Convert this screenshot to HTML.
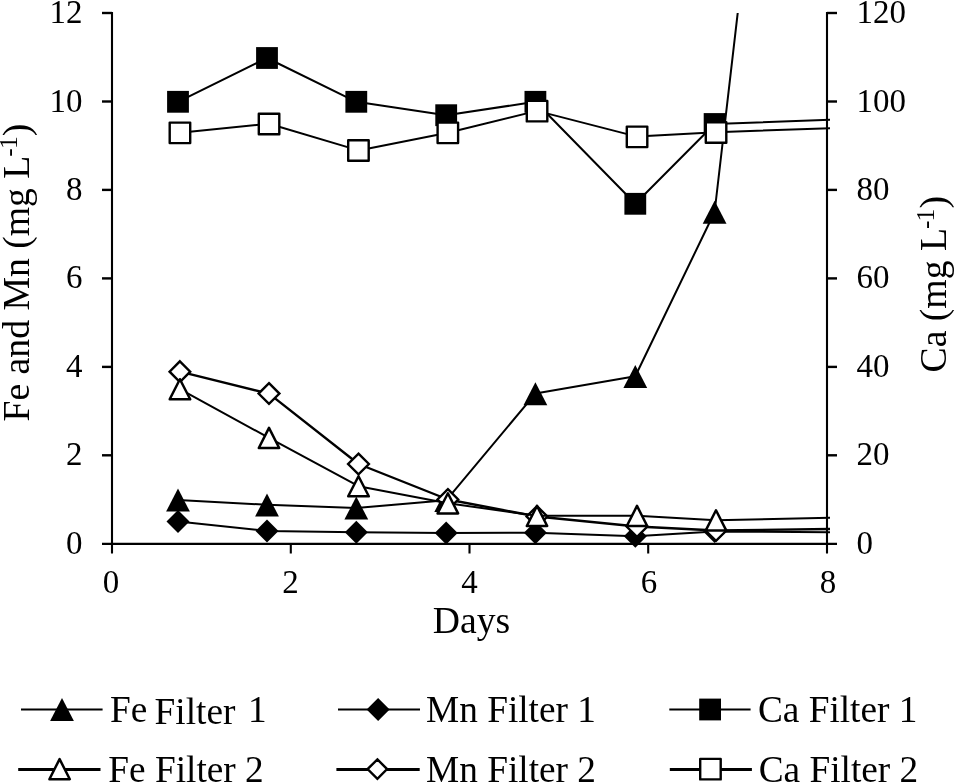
<!DOCTYPE html>
<html lang="en"><head><meta charset="utf-8"><title>Fe, Mn and Ca in filters</title>
<style>
html,body{margin:0;padding:0;background:#fff;}
body{width:955px;height:783px;overflow:hidden;}
svg{display:block;}
text{font-family:"Liberation Serif","Times New Roman",serif;fill:#000;}
.tk{font-size:33px;}
.tt{font-size:37.3px;}
.at{font-size:37.7px;}
</style></head><body>
<svg width="955" height="783" viewBox="0 0 955 783">
<rect width="955" height="783" fill="#fff"/>
<defs><clipPath id="cp"><rect x="100" y="12.9" width="730" height="560"/></clipPath></defs>

<g stroke="#000" stroke-width="2.1" fill="none">
<line x1="112.0" y1="12.0" x2="112.0" y2="553.5"/>
<line x1="827.0" y1="12.0" x2="827.0" y2="553.5"/>
<line x1="102.0" y1="543.9" x2="837.0" y2="543.9"/>
<line stroke-width="2.4" x1="102.0" y1="455.3" x2="112.0" y2="455.3"/>
<line stroke-width="2.4" x1="827.0" y1="455.3" x2="837.0" y2="455.3"/>
<line stroke-width="2.4" x1="102.0" y1="366.9" x2="112.0" y2="366.9"/>
<line stroke-width="2.4" x1="827.0" y1="366.9" x2="837.0" y2="366.9"/>
<line stroke-width="2.4" x1="102.0" y1="278.4" x2="112.0" y2="278.4"/>
<line stroke-width="2.4" x1="827.0" y1="278.4" x2="837.0" y2="278.4"/>
<line stroke-width="2.4" x1="102.0" y1="189.9" x2="112.0" y2="189.9"/>
<line stroke-width="2.4" x1="827.0" y1="189.9" x2="837.0" y2="189.9"/>
<line stroke-width="2.4" x1="102.0" y1="101.5" x2="112.0" y2="101.5"/>
<line stroke-width="2.4" x1="827.0" y1="101.5" x2="837.0" y2="101.5"/>
<line stroke-width="2.4" x1="102.0" y1="13.0" x2="112.0" y2="13.0"/>
<line stroke-width="2.4" x1="827.0" y1="13.0" x2="837.0" y2="13.0"/>
<line x1="290.8" y1="543.9" x2="290.8" y2="553.5"/>
<line x1="469.5" y1="543.9" x2="469.5" y2="553.5"/>
<line x1="648.2" y1="543.9" x2="648.2" y2="553.5"/>
</g>
<g class="tk">
<text transform="translate(82.6 553.8) scale(1 1.035)" text-anchor="end">0</text>
<text transform="translate(856.6 553.8) scale(1 1.035)">0</text>
<text transform="translate(82.6 465.3) scale(1 1.035)" text-anchor="end">2</text>
<text transform="translate(856.6 465.3) scale(1 1.035)">20</text>
<text transform="translate(82.6 376.9) scale(1 1.035)" text-anchor="end">4</text>
<text transform="translate(856.6 376.9) scale(1 1.035)">40</text>
<text transform="translate(82.6 288.4) scale(1 1.035)" text-anchor="end">6</text>
<text transform="translate(856.6 288.4) scale(1 1.035)">60</text>
<text transform="translate(82.6 199.9) scale(1 1.035)" text-anchor="end">8</text>
<text transform="translate(856.6 199.9) scale(1 1.035)">80</text>
<text transform="translate(82.6 111.5) scale(1 1.035)" text-anchor="end">10</text>
<text transform="translate(856.6 111.5) scale(1 1.035)">100</text>
<text transform="translate(82.6 23.0) scale(1 1.035)" text-anchor="end">12</text>
<text transform="translate(856.6 23.0) scale(1 1.035)">120</text>
<text transform="translate(111.1 592.6) scale(1 1.035)" text-anchor="middle">0</text>
<text transform="translate(290.4 592.6) scale(1 1.035)" text-anchor="middle">2</text>
<text transform="translate(469.6 592.6) scale(1 1.035)" text-anchor="middle">4</text>
<text transform="translate(648.9 592.6) scale(1 1.035)" text-anchor="middle">6</text>
<text transform="translate(828.1 592.6) scale(1 1.035)" text-anchor="middle">8</text>
</g>
<text class="at" x="471.5" y="633.2" text-anchor="middle">Days</text>
<text class="at" transform="translate(29.4 421.5) rotate(-90)">Fe and Mn (mg L<tspan font-size="25.5px" letter-spacing="-0.9" dx="-1" dy="-12.4">-1</tspan><tspan dx="1" dy="12.4">)</tspan></text>
<text class="at" transform="translate(946.4 372.5) rotate(-90)">Ca (mg L<tspan font-size="25.5px" letter-spacing="-0.9" dx="-1" dy="-12.4">-1</tspan><tspan dx="1" dy="12.4">)</tspan></text>
<g clip-path="url(#cp)">
<polyline fill="none" stroke="#000" stroke-width="2" stroke-linejoin="round" points="178.0,521.6 267.0,530.9 356.3,532.2 446.2,533.1 535.4,532.7 635.3,536.2 714.6,531.6 840.0,532.2"/>
<polygon points="178.0,510.1 189.5,521.6 178.0,533.1 166.5,521.6" fill="#000"/>
<polygon points="267.0,519.4 278.5,530.9 267.0,542.4 255.5,530.9" fill="#000"/>
<polygon points="356.3,520.7 367.8,532.2 356.3,543.7 344.8,532.2" fill="#000"/>
<polygon points="446.2,521.6 457.7,533.1 446.2,544.6 434.7,533.1" fill="#000"/>
<polygon points="535.4,521.2 546.9,532.7 535.4,544.2 523.9,532.7" fill="#000"/>
<polygon points="635.3,524.7 646.8,536.2 635.3,547.7 623.8,536.2" fill="#000"/>
<polygon points="714.6,520.1 726.1,531.6 714.6,543.1 703.1,531.6" fill="#000"/>
<polyline fill="none" stroke="#000" stroke-width="2" stroke-linejoin="round" points="178.0,499.9 267.0,504.8 356.3,507.9 446.2,500.3 535.4,393.6 635.3,376.3 714.6,212.0 804.0,-558.0"/>
<polygon points="178.0,488.6 189.9,511.6 166.1,511.6" fill="#000"/>
<polygon points="267.0,493.5 278.9,516.5 255.1,516.5" fill="#000"/>
<polygon points="356.3,496.6 368.2,519.6 344.4,519.6" fill="#000"/>
<polygon points="446.2,489.0 458.1,512.0 434.3,512.0" fill="#000"/>
<polygon points="535.4,382.3 547.3,405.3 523.5,405.3" fill="#000"/>
<polygon points="635.3,365.0 647.2,388.0 623.4,388.0" fill="#000"/>
<polygon points="714.6,200.7 726.5,223.7 702.7,223.7" fill="#000"/>
<polyline fill="none" stroke="#000" stroke-width="2.4" stroke-linejoin="round" points="179.9,371.7 269.0,393.6 358.5,464.0 447.9,499.5 537.0,516.5 637.0,526.5 716.0,530.5 840.0,528.9"/>
<polygon points="179.9,361.3 190.2,371.7 179.9,382.0 169.6,371.7" fill="#fff" stroke="#000" stroke-width="2.4"/>
<polygon points="269.0,383.2 279.4,393.6 269.0,403.9 258.6,393.6" fill="#fff" stroke="#000" stroke-width="2.4"/>
<polygon points="358.5,453.7 368.9,464.0 358.5,474.4 348.1,464.0" fill="#fff" stroke="#000" stroke-width="2.4"/>
<polygon points="447.9,489.1 458.2,499.5 447.9,509.8 437.5,499.5" fill="#fff" stroke="#000" stroke-width="2.4"/>
<polygon points="537.0,506.2 547.4,516.5 537.0,526.9 526.6,516.5" fill="#fff" stroke="#000" stroke-width="2.4"/>
<polygon points="637.0,516.1 647.4,526.5 637.0,536.8 626.6,526.5" fill="#fff" stroke="#000" stroke-width="2.4"/>
<polygon points="716.0,520.1 726.4,530.5 716.0,540.8 705.6,530.5" fill="#fff" stroke="#000" stroke-width="2.4"/>
<polyline fill="none" stroke="#000" stroke-width="2" stroke-linejoin="round" points="179.9,389.2 269.0,437.9 358.5,486.2 447.9,503.2 537.0,515.8 637.0,515.8 716.0,520.3 840.0,517.5"/>
<polygon points="179.9,379.2 190.2,399.3 169.7,399.3" fill="#fff" stroke="#000" stroke-width="2.5" stroke-linejoin="round"/>
<polygon points="269.0,427.9 279.2,448.0 258.8,448.0" fill="#fff" stroke="#000" stroke-width="2.5" stroke-linejoin="round"/>
<polygon points="358.5,476.2 368.8,496.3 348.2,496.3" fill="#fff" stroke="#000" stroke-width="2.5" stroke-linejoin="round"/>
<polygon points="447.9,493.3 458.1,513.4 437.6,513.4" fill="#fff" stroke="#000" stroke-width="2.5" stroke-linejoin="round"/>
<polygon points="537.0,505.9 547.2,526.0 526.8,526.0" fill="#fff" stroke="#000" stroke-width="2.5" stroke-linejoin="round"/>
<polygon points="637.0,505.9 647.2,526.0 626.8,526.0" fill="#fff" stroke="#000" stroke-width="2.5" stroke-linejoin="round"/>
<polygon points="716.0,510.3 726.2,530.4 705.8,530.4" fill="#fff" stroke="#000" stroke-width="2.5" stroke-linejoin="round"/>
<polyline fill="none" stroke="#000" stroke-width="2" stroke-linejoin="round" points="178.0,101.8 267.0,58.0 356.3,101.8 446.2,115.2 535.4,101.8 635.3,203.8 714.6,124.0 840.0,119.4"/>
<rect x="167.1" y="90.9" width="21.8" height="21.8" fill="#000"/>
<rect x="256.1" y="47.1" width="21.8" height="21.8" fill="#000"/>
<rect x="345.4" y="90.9" width="21.8" height="21.8" fill="#000"/>
<rect x="435.3" y="104.3" width="21.8" height="21.8" fill="#000"/>
<rect x="524.5" y="90.9" width="21.8" height="21.8" fill="#000"/>
<rect x="624.4" y="192.9" width="21.8" height="21.8" fill="#000"/>
<rect x="703.7" y="113.1" width="21.8" height="21.8" fill="#000"/>
<polyline fill="none" stroke="#000" stroke-width="2" stroke-linejoin="round" points="179.9,132.7 269.0,123.8 358.5,150.4 447.9,132.7 537.0,110.9 637.0,136.6 716.0,132.2 840.0,127.9"/>
<rect x="169.7" y="122.6" width="20.5" height="20.5" fill="#fff" stroke="#000" stroke-width="2.4" stroke-linejoin="round"/>
<rect x="258.8" y="113.7" width="20.5" height="20.5" fill="#fff" stroke="#000" stroke-width="2.4" stroke-linejoin="round"/>
<rect x="348.2" y="140.3" width="20.5" height="20.5" fill="#fff" stroke="#000" stroke-width="2.4" stroke-linejoin="round"/>
<rect x="437.6" y="122.6" width="20.5" height="20.5" fill="#fff" stroke="#000" stroke-width="2.4" stroke-linejoin="round"/>
<rect x="526.8" y="100.9" width="20.5" height="20.5" fill="#fff" stroke="#000" stroke-width="2.4" stroke-linejoin="round"/>
<rect x="626.8" y="126.6" width="20.5" height="20.5" fill="#fff" stroke="#000" stroke-width="2.4" stroke-linejoin="round"/>
<rect x="705.8" y="122.2" width="20.5" height="20.5" fill="#fff" stroke="#000" stroke-width="2.4" stroke-linejoin="round"/>
</g>
<g>
<line x1="21" y1="709.5" x2="102.6" y2="709.5" stroke="#000" stroke-width="2"/><polygon points="62.0,698.1 73.9,721.1 50.1,721.1" fill="#000"/>
<line x1="18.2" y1="769.4" x2="100.5" y2="769.4" stroke="#000" stroke-width="3"/><polygon points="59.6,759.1 69.8,779.2 49.4,779.2" fill="#fff" stroke="#000" stroke-width="2.5" stroke-linejoin="round"/>
<line x1="338" y1="709.5" x2="420" y2="709.5" stroke="#000" stroke-width="2"/><polygon points="378.1,698.0 389.6,709.5 378.1,721.0 366.6,709.5" fill="#000"/>
<line x1="336.4" y1="769.4" x2="419.7" y2="769.4" stroke="#000" stroke-width="3"/><polygon points="377.4,759.4 387.1,769.1 377.4,778.9 367.6,769.1" fill="#fff" stroke="#000" stroke-width="2.4"/>
<line x1="669.3" y1="709.5" x2="750.6" y2="709.5" stroke="#000" stroke-width="2"/><rect x="699.2" y="698.6" width="21.8" height="21.8" fill="#000"/>
<line x1="669.8" y1="769.4" x2="751.9" y2="769.4" stroke="#000" stroke-width="3"/><rect x="700.2" y="758.9" width="20.5" height="20.5" fill="#fff" stroke="#000" stroke-width="2.4" stroke-linejoin="round"/>
</g>
<g class="tt">
<text x="110" y="722.3">Fe</text><text x="154.6" y="724">Filter</text><text x="248" y="722.3">1</text>
<text x="108.3" y="781.8">Fe Filter 2</text>
<text x="426" y="722.2">Mn Filter 1</text>
<text x="426.1" y="781.8">Mn Filter 2</text>
<text x="757.9" y="722.2">Ca Filter 1</text>
<text x="758.7" y="781.8">Ca Filter 2</text>
</g>
</svg></body></html>
